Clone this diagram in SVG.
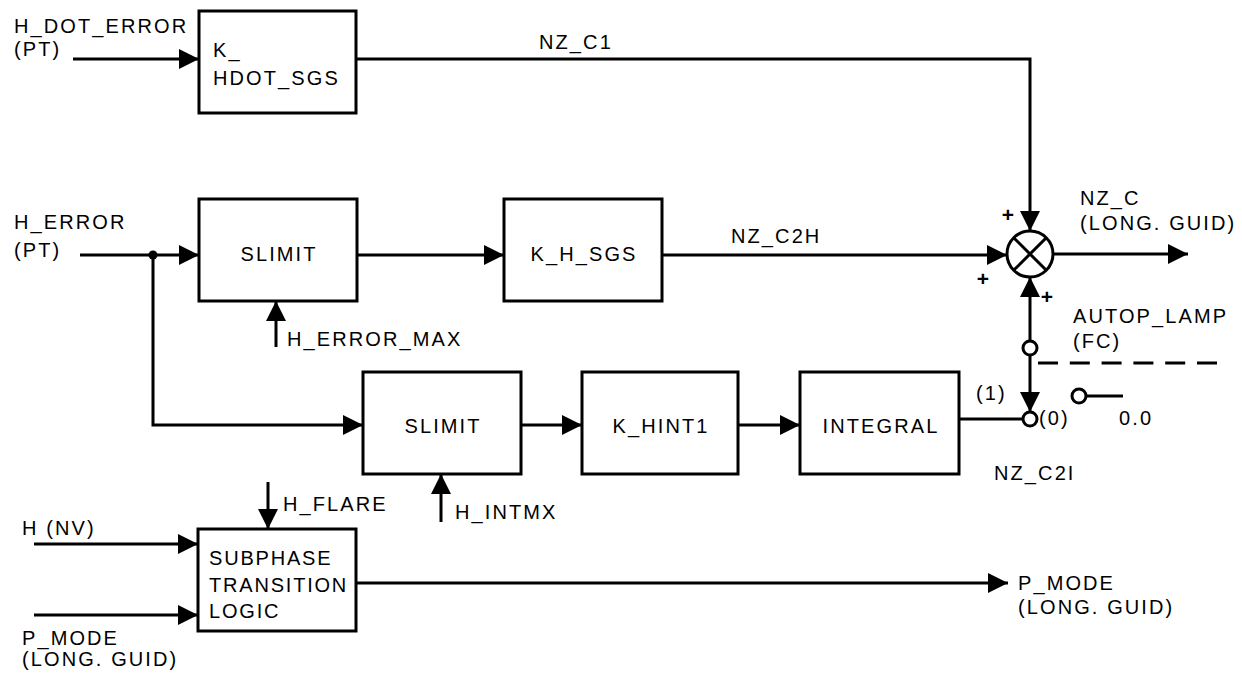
<svg xmlns="http://www.w3.org/2000/svg" width="1242" height="679" viewBox="0 0 1242 679">
<style>
  text { font-family: "Liberation Sans", Arial, sans-serif; font-size: 20px; letter-spacing: 2.1px; fill: #000; }
  .c { text-anchor: middle; }
  .pl { font-size: 21px; font-weight: bold; letter-spacing: 0; }
  .tb { letter-spacing: 1.8px; }
  .box { fill: #fff; stroke: #000; stroke-width: 3; }
  .ln { fill: none; stroke: #000; stroke-width: 3; }
  .ar { fill: none; stroke: #000; stroke-width: 3; marker-end: url(#ah); }
  .sw { fill: #fff; stroke: #000; stroke-width: 3; }
</style>
<defs>
  <marker id="ah" viewBox="0 0 20 20" refX="20" refY="10" markerWidth="20" markerHeight="20" markerUnits="userSpaceOnUse" orient="auto">
    <path d="M0,0 L20,10 L0,20 z" fill="#000"/>
  </marker>
</defs>
<rect width="1242" height="679" fill="#fff"/>

<g id="connectors">
  <path class="ar" d="M73,59 H199"/>
  <path class="ar" d="M356,59 H1030 V231"/>
  <path class="ar" d="M80,255 H199"/>
  <circle cx="153" cy="255" r="4.5" fill="#000"/>
  <path class="ar" d="M357,255 H504"/>
  <path class="ar" d="M662,255 H1007"/>
  <path class="ar" d="M1053,254 H1188"/>
  <path class="ar" d="M276,347 V301"/>
  <path class="ar" d="M153,255 V425 H363"/>
  <path class="ar" d="M521,425 H582"/>
  <path class="ar" d="M738,425 H800"/>
  <path class="ln" d="M959,419 H1023"/>
  <path class="ar" d="M441,522 V474"/>
  <path class="ar" d="M1030,341 V277"/>
  <path class="ar" d="M1030,355 V412"/>
  <path class="ln" d="M1038,363 H1217" stroke-dasharray="20 11.8"/>
  <path class="ln" d="M1086,396 H1123"/>
  <path class="ar" d="M268,482 V529"/>
  <path class="ar" d="M34,544 H198"/>
  <path class="ar" d="M34,615 H198"/>
  <path class="ar" d="M356,583 H1008"/>
  <circle class="sw" cx="1030" cy="348" r="7"/>
  <circle class="sw" cx="1030" cy="419" r="7"/>
  <circle class="sw" cx="1079" cy="396" r="7"/>
</g>

<g id="sum">
  <circle cx="1030" cy="254" r="23" fill="#fff" stroke="#000" stroke-width="3"/>
  <path class="ln" d="M1013.7,237.7 L1046.3,270.3 M1046.3,237.7 L1013.7,270.3"/>
  <text x="1008" y="222" class="c pl">+</text>
  <text x="983" y="286" class="c pl">+</text>
  <text x="1047" y="304" class="c pl">+</text>
</g>

<g id="k_hdot_sgs">
  <rect class="box" x="199" y="11" width="157" height="102"/>
  <text x="213" y="57">K_</text>
  <text x="213" y="85">HDOT_SGS</text>
</g>
<g id="slimit1">
  <rect class="box" x="199" y="199" width="158" height="102"/>
  <text x="279" y="261" class="c">SLIMIT</text>
</g>
<g id="k_h_sgs">
  <rect class="box" x="504" y="199" width="158" height="102"/>
  <text x="584" y="261" class="c">K_H_SGS</text>
</g>
<g id="slimit2">
  <rect class="box" x="363" y="372" width="158" height="102"/>
  <text x="443" y="433" class="c">SLIMIT</text>
</g>
<g id="k_hint1">
  <rect class="box" x="582" y="372" width="156" height="102"/>
  <text x="661" y="433" class="c">K_HINT1</text>
</g>
<g id="integral">
  <rect class="box" x="800" y="372" width="159" height="102"/>
  <text x="881" y="433" class="c">INTEGRAL</text>
</g>
<g id="subphase">
  <rect class="box" x="198" y="529" width="158" height="102"/>
  <text x="209" y="565" class="tb">SUBPHASE</text>
  <text x="209" y="592" class="tb">TRANSITION</text>
  <text x="209" y="618" class="tb">LOGIC</text>
</g>

<g id="labels">
  <text x="14" y="33">H_DOT_ERROR</text>
  <text x="14" y="56">(PT)</text>
  <text x="539" y="49">NZ_C1</text>
  <text x="14" y="229">H_ERROR</text>
  <text x="14" y="257">(PT)</text>
  <text x="731" y="243">NZ_C2H</text>
  <text x="287" y="346">H_ERROR_MAX</text>
  <text x="455" y="519">H_INTMX</text>
  <text x="283" y="511">H_FLARE</text>
  <text x="22" y="535">H (NV)</text>
  <text x="22" y="645">P_MODE</text>
  <text x="22" y="666">(LONG. GUID)</text>
  <text x="1018" y="590">P_MODE</text>
  <text x="1018" y="614">(LONG. GUID)</text>
  <text x="1080" y="205">NZ_C</text>
  <text x="1080" y="230">(LONG. GUID)</text>
  <text x="1073" y="323">AUTOP_LAMP</text>
  <text x="1073" y="348">(FC)</text>
  <text x="976" y="400">(1)</text>
  <text x="1039" y="425">(0)</text>
  <text x="1119" y="425">0.0</text>
  <text x="994" y="480">NZ_C2I</text>
</g>
</svg>
